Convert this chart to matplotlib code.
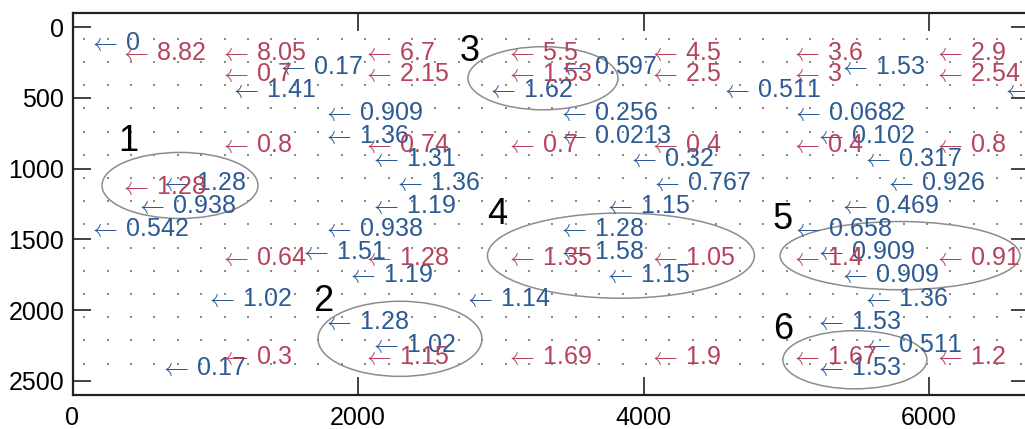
import numpy as np
import matplotlib
matplotlib.use("Agg")
import matplotlib.pyplot as plt
from matplotlib.patches import Ellipse

plt.rcParams['font.family'] = ['Liberation Sans', 'DejaVu Sans']
plt.rcParams['mathtext.fontset'] = 'cm'

# Regular sampling grid (ft)
GRID_ORIGIN = 82
GRID_STEP = 164
grid_x = np.arange(GRID_ORIGIN, 6700, GRID_STEP)
grid_y = np.arange(GRID_ORIGIN, 2450, GRID_STEP)

# Well readings (red)
red_x = [300, 1000, 1000, 2000, 2000, 3000, 3000, 4000, 4000, 5000, 5000, 6000, 6000,
         1000, 2000, 3000, 4000, 5000, 6000,
         300,
         1000, 2000, 3000, 4000, 5000, 6000,
         1000, 2000, 3000, 4000, 5000, 6000]
red_y = [150, 150, 300, 150, 300, 150, 300, 150, 300, 150, 300, 150, 300,
         800, 800, 800, 800, 800, 800,
         1100,
         1600, 1600, 1600, 1600, 1600, 1600,
         2300, 2300, 2300, 2300, 2300, 2300]
red_val = ['8.82', '8.05', '0.7', '6.7', '2.15', '5.5', '1.53', '4.5', '2.5', '3.6', '3', '2.9', '2.54',
           '0.8', '0.74', '0.7', '0.4', '0.4', '0.8',
           '1.28',
           '0.64', '1.28', '1.35', '1.05', '1.4', '0.91',
           '0.3', '1.15', '1.69', '1.9', '1.67', '1.2']

# Grid estimates (blue)
blue_x = [82, 1394, 1066, 3362, 2870, 4510, 5330, 6478,
          1722, 3362, 5002, 1722, 3362, 5166,
          2050, 3854, 5494, 2214, 4018, 5658, 574,
          2050, 3690, 5330, 410, 82, 1722, 3362, 5002,
          1558, 3362, 5166, 1886, 3690, 5330,
          902, 2706, 5494, 1722, 5166, 2050, 5494, 574, 5166]
blue_y = [82, 246, 410, 246, 410, 410, 246, 410,
          574, 574, 574, 738, 738, 738,
          902, 902, 902, 1066, 1066, 1066, 1066,
          1230, 1230, 1230, 1230, 1394, 1394, 1394, 1394,
          1558, 1558, 1558, 1722, 1722, 1722,
          1886, 1886, 1886, 2050, 2050, 2214, 2214, 2378, 2378]
blue_val = ['0', '0.17', '1.41', '0.597', '1.62', '0.511', '1.53', '',
            '0.909', '0.256', '0.0682', '1.36', '0.0213', '0.102',
            '1.31', '0.32', '0.317', '1.36', '0.767', '0.926', '1.28',
            '1.19', '1.15', '0.469', '0.938', '0.542', '0.938', '1.28', '0.658',
            '1.51', '1.58', '0.909', '1.19', '1.15', '0.909',
            '1.02', '1.14', '1.36', '1.28', '1.53', '1.02', '0.511', '0.17', '1.53']

# Zones
zone_names = ['1', '2', '3', '4', '5', '6']
zone_label_x = [389, 1755, 2785, 2974, 4977, 4977]
zone_label_y = [779, 1912, 142, 1296, 1331, 2110]
zone_cx = [753, 2294, 3296, 3842, 5797, 5481]
zone_cy = [1119, 2203, 361, 1615, 1615, 2351]
zone_w = [1093, 1149, 1051, 1870, 1681, 1009]
zone_h = [467, 531, 446, 602, 482, 411]

RED = '#b5435b'
BLUE = '#2b5a94'

fig = plt.figure(figsize=(10.25, 4.29), dpi=100)
ax = fig.add_axes([72.5 / 1025, 34 / 429, 6700 * 0.14275 / 1025, 382 / 429])

gx, gy = np.meshgrid(grid_x, grid_y)
ax.plot(gx.ravel(), gy.ravel(), 's', color='#8a8a8a', markersize=2.0,
        markeredgewidth=0, zorder=1)

for cx, cy, w, h in zip(zone_cx, zone_cy, zone_w, zone_h):
    ax.add_patch(Ellipse((cx, cy), w, h, fill=False, edgecolor='#8c8c8c',
                         linewidth=1.1, zorder=2))


def arrow_label(x, y, v, color):
    ax.annotate(r'$\leftarrow\,$' + v, (x, y), xytext=(3.0, -1.5),
                textcoords='offset points', ha='left', va='center_baseline',
                color=color, fontsize=18, annotation_clip=False, zorder=3)


for x, y, v in zip(blue_x, blue_y, blue_val):
    arrow_label(x, y, v, BLUE)

for x, y, v in zip(red_x, red_y, red_val):
    arrow_label(x, y, v, RED)

for name, x, y in zip(zone_names, zone_label_x, zone_label_y):
    ax.text(x, y, name, ha='center', va='center_baseline', fontsize=26,
            color='black', zorder=4)

ax.set_xlim(0, 6700)
ax.set_ylim(2600, -100)
ax.set_xticks([0, 2000, 4000, 6000])
ax.set_yticks([0, 500, 1000, 1500, 2000, 2500])
ax.tick_params(direction='in', length=13, width=1.2, labelsize=18,
               top=True, right=True, color='#222222')
ax.tick_params(axis='x', pad=8)
ax.tick_params(axis='y', pad=6)
for s in ax.spines.values():
    s.set_linewidth(1.6)
    s.set_color('#222222')

fig.savefig('out.png', dpi=100)
